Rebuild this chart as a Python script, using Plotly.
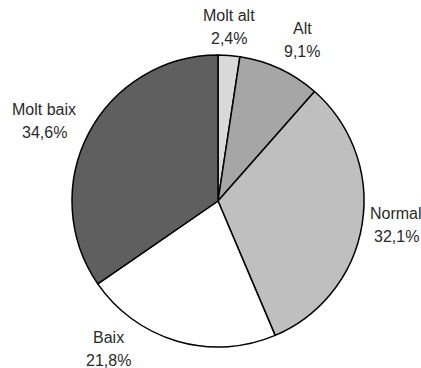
import plotly.graph_objects as go

labels = ["Molt alt", "Alt", "Normal", "Baix", "Molt baix"]
values = [2.4, 9.1, 32.1, 21.8, 34.6]
colors = ["#d9d9d9", "#a6a6a6", "#bfbfbf", "#ffffff", "#5f5f5f"]

W, H = 421, 368
# label block centres in pixels (Excel-style best-fit placement)
label_pos = [(229, 27), (302, 40), (396, 225), (108, 349), (44, 121)]


def fx(px):
    return px / W


def fy(py):
    return 1 - py / H


fig = go.Figure(go.Pie(
    labels=labels,
    values=values,
    sort=False,
    direction="clockwise",
    rotation=0,
    marker=dict(colors=colors, line=dict(color="#000000", width=1.5)),
    textinfo="none",
    showlegend=False,
    hoverinfo="label+percent",
    domain=dict(x=[fx(72), fx(364)], y=[fy(347), fy(55)]),
))

font = dict(family="Liberation Sans, Arial, sans-serif", size=16, color="#2a2a2a")
for lab, val, (px, py) in zip(labels, values, label_pos):
    pct = f"{val:.1f}".replace(".", ",") + "%"
    for txt, dy in ((lab, -11.5), (pct, 11.5)):
        fig.add_annotation(
            x=fx(px), y=fy(py + dy), xref="paper", yref="paper",
            text=txt, showarrow=False, font=font,
            xanchor="center", yanchor="middle",
        )

fig.update_layout(
    width=W, height=H,
    margin=dict(l=0, r=0, t=0, b=0),
    paper_bgcolor="white",
    plot_bgcolor="white",
)
# drop the default 8px body margin so the figure fills the window
fig.write_html(
    "out.html",
    config={"displayModeBar": False},
    post_script="document.body.style.margin = '0';",
)
